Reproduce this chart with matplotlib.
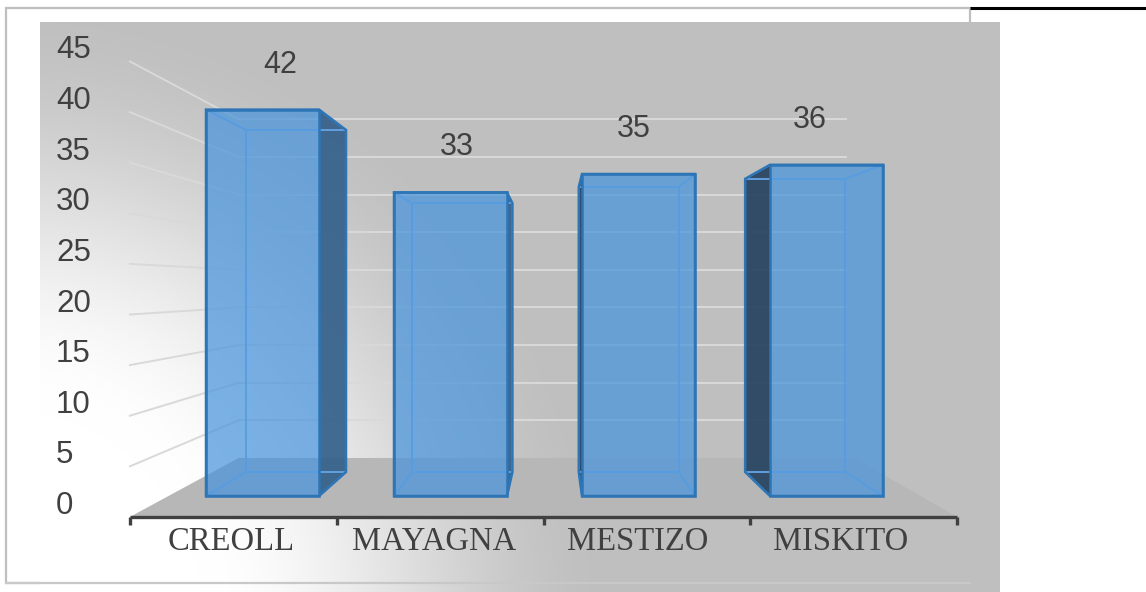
import numpy as np
import matplotlib
matplotlib.use("Agg")
import matplotlib.pyplot as plt
from matplotlib.patches import Polygon, Rectangle

# ---- data ----
categories = ["CREOLL", "MAYAGNA", "MESTIZO", "MISKITO"]
values = [42, 33, 35, 36]
y_ticks = [0, 5, 10, 15, 20, 25, 30, 35, 40, 45]

# ---- perspective layout (pixel space) ----
W, H = 1146, 592
VPX, VPY = 554.0, 287.0      # vanishing point
Y0, K = 496.0, 9.2           # front plane baseline, px per unit
X_START, SLOT = 168.5, 188.0
BAR_W = 113.0
D_FRONT, D_BACK, D_WALL, D_AXIS = 1.0, 0.885, 0.818, 1.10
X_END = X_START + SLOT * len(categories)


def proj(X, v, d):
    return (VPX + d * (X - VPX), VPY + d * (Y0 - K * v - VPY))


fig = plt.figure(figsize=(W / 100, H / 100), dpi=100)
ax = fig.add_axes([0, 0, 1, 1])
ax.set_xlim(0, W)
ax.set_ylim(H, 0)
ax.axis("off")

# frame (under panel)
ax.add_patch(Rectangle((6, 8), 964, 575, fill=False, ec="#bfbfbf", lw=1.6, zorder=0))

# background panel with gradient
px0, px1, py0, py1 = 40, 1000, 22, 592
xs = np.arange(px0, px1) + 0.5
ys = np.arange(py0, py1) + 0.5
XX, YY = np.meshgrid(xs, ys)
r = np.hypot(XX - 0, YY - 610)
t = np.clip((r - 200) / 420, 0, 1)
t = t * t * (3 - 2 * t)
val = (255 - (255 - 191) * t) / 255.0
img = np.dstack([val, val, val])
ax.imshow(img, extent=(px0, px1, py1, py0), zorder=1, interpolation="bilinear")

# bottom frame line over panel
ax.plot([6, 970], [583, 583], color="#c8c8c8", lw=1.6, zorder=2)
# black line top right
ax.plot([970, W], [8, 8], color="black", lw=2.2, zorder=2, solid_capstyle="butt")

# floor
floor = [proj(X_START, 0, D_AXIS), proj(X_END, 0, D_AXIS),
         proj(X_END, 0, D_WALL), proj(X_START, 0, D_WALL)]
ax.add_patch(Polygon(floor, closed=True, fc="#b7b7b7", ec="none", zorder=3))

# gridlines: back wall and left wall
grid_c = "#d9d9d9"
for v in y_ticks[1:]:
    a = proj(X_START, v, D_WALL)
    b = proj(X_END - 10, v, D_WALL)
    ax.plot([a[0], b[0]], [a[1], b[1]], color=grid_c, lw=1.4, zorder=4)
    c = proj(X_START, v, D_AXIS)
    ax.plot([c[0], a[0]], [c[1], a[1]], color=grid_c, lw=1.4, zorder=4)

# axis line and ticks
a0 = proj(X_START, 0, D_AXIS)
a1 = proj(X_END, 0, D_AXIS)
ax.plot([a0[0], a1[0]], [a0[1], a1[1]], color="#404040", lw=2.4, zorder=5,
        solid_capstyle="butt")
for i in range(len(categories) + 1):
    p = proj(X_START + SLOT * i, 0, D_AXIS)
    ax.plot([p[0], p[0]], [p[1], p[1] + 8], color="#404040", lw=2.4, zorder=5,
            solid_capstyle="butt")

# bars
fill_c = (69 / 255, 147 / 255, 221 / 255)
inner_c = (100 / 255, 165 / 255, 230 / 255)
edge_c = (46 / 255, 117 / 255, 182 / 255)
right_dark = (50 / 255, 92 / 255, 131 / 255)
left_dark = (35 / 255, 60 / 255, 86 / 255)
A = 0.45

for i, (cat, v) in enumerate(zip(categories, values)):
    xc = X_START + SLOT * (i + 0.5)
    xl, xr = xc - BAR_W / 2, xc + BAR_W / 2
    F = {"lb": proj(xl, 0, D_FRONT), "rb": proj(xr, 0, D_FRONT),
         "rt": proj(xr, v, D_FRONT), "lt": proj(xl, v, D_FRONT)}
    B = {"lb": proj(xl, 0, D_BACK), "rb": proj(xr, 0, D_BACK),
         "rt": proj(xr, v, D_BACK), "lt": proj(xl, v, D_BACK)}
    z = 6 + i * 0.1
    left_face = [F["lb"], F["lt"], B["lt"], B["lb"]]
    right_face = [F["rb"], F["rt"], B["rt"], B["rb"]]
    # back face
    ax.add_patch(Polygon([B["lb"], B["rb"], B["rt"], B["lt"]], fc=fill_c, alpha=A,
                         ec="none", zorder=z))
    # top & bottom faces
    ax.add_patch(Polygon([F["lt"], F["rt"], B["rt"], B["lt"]], fc=fill_c, alpha=A,
                         ec="none", zorder=z))
    ax.add_patch(Polygon([F["lb"], F["rb"], B["rb"], B["lb"]], fc=fill_c, alpha=A,
                         ec="none", zorder=z))
    # side faces: outward one dark, inward one plain
    if xr < VPX:
        ax.add_patch(Polygon(right_face, fc=right_dark, alpha=0.85, ec="none", zorder=z + 0.01))
        ax.add_patch(Polygon(left_face, fc=fill_c, alpha=A, ec="none", zorder=z + 0.01))
    else:
        ax.add_patch(Polygon(left_face, fc=left_dark, alpha=0.85, ec="none", zorder=z + 0.01))
        ax.add_patch(Polygon(right_face, fc=fill_c, alpha=A, ec="none", zorder=z + 0.01))
    # inner edges
    for k in ["lb", "rb", "rt", "lt"]:
        ax.plot([F[k][0], B[k][0]], [F[k][1], B[k][1]], color=inner_c, lw=1.3,
                zorder=z + 0.02)
    ax.add_patch(Polygon([B["lb"], B["rb"], B["rt"], B["lt"]], fill=False, ec=inner_c,
                         lw=1.3, zorder=z + 0.02))
    # front face
    ax.add_patch(Polygon([F["lb"], F["rb"], F["rt"], F["lt"]], fc=fill_c, alpha=A,
                         ec="none", zorder=z + 0.03))
    # outer edges
    if xr < VPX:
        outline = [F["lt"], F["rt"], B["rt"], B["rb"], F["rb"], F["lb"]]
    else:
        outline = [F["rt"], F["lt"], B["lt"], B["lb"], F["lb"], F["rb"]]
    ax.add_patch(Polygon(outline, closed=True, fill=False, ec=edge_c, lw=1.8,
                         zorder=z + 0.04, joinstyle="miter"))
    ax.add_patch(Polygon([F["lb"], F["rb"], F["rt"], F["lt"]], fill=False, ec=edge_c,
                         lw=1.8, zorder=z + 0.04, joinstyle="miter"))
    # data label
    ax.text(proj(xc, v, 0.94)[0], F["lt"][1] - 45, str(v), ha="center", va="center",
            fontsize=22, color="#404040", family="Liberation Sans", zorder=10)
    # category label
    lp = proj(xc, 0, 1.08)
    ax.text(lp[0] - 8, a0[1] + 25, cat, ha="center", va="center", fontsize=23.5,
            color="#404040", family="Liberation Serif", zorder=10)

# y tick labels
for v in y_ticks:
    p = proj(X_START, v, D_AXIS)
    ax.text(56, p[1] - 11, str(v), ha="left", va="center", fontsize=22.5,
            color="#404040", family="Liberation Sans", zorder=10)

fig.savefig("out.png", dpi=100)
